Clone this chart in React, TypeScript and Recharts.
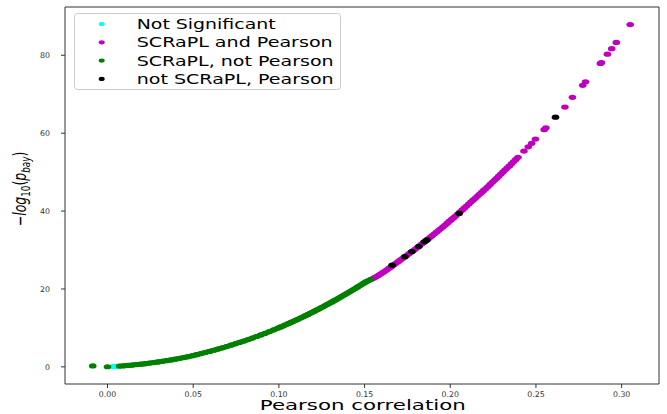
import React from 'react';
import { ScatterChart, Scatter, XAxis, YAxis, Legend, ReferenceArea } from 'recharts';

const xTicks = [0, 0.05, 0.1, 0.15, 0.2, 0.25, 0.3];
const yTicks = [0, 20, 40, 60, 80];
const xDomain: [number, number] = [-0.0248, 0.3218];
const yDomain: [number, number] = [-4.4, 92.4];

const legendLabels = ['Not Significant', 'SCRaPL and Pearson', 'SCRaPL, not Pearson', 'not SCRaPL, Pearson'];

const notSigX = [0.0035, 0.0052];
const notSigY = [0.1, 0.15];

const greenX = [
  0.007, 0.0095, 0.012, 0.0145, 0.017, 0.0195, 0.022, 0.0245, 0.027, 0.0295,
  0.032, 0.0345, 0.037, 0.0395, 0.042, 0.0445, 0.047, 0.0495, 0.052, 0.0545,
  0.057, 0.0595, 0.062, 0.0645, 0.067, 0.0695, 0.072, 0.0745, 0.077, 0.0795,
  0.082, 0.0845, 0.087, 0.0895, 0.092, 0.0945, 0.097, 0.0995, 0.10075, 0.102,
  0.10325, 0.1045, 0.10575, 0.107, 0.10825, 0.1095, 0.11075, 0.112, 0.11325, 0.1145,
  0.11575, 0.117, 0.11825, 0.1195, 0.12075, 0.122, 0.12325, 0.1245, 0.12575, 0.127,
  0.12825, 0.1295, 0.13075, 0.132, 0.13325, 0.1345, 0.13575, 0.137, 0.13825, 0.1395,
  0.14075, 0.142, 0.14325, 0.1445, 0.14575, 0.147, 0.14825, 0.1495, 0.15075, 0.152,
  0.1535,
];
const greenY = [
  0.19, 0.27, 0.36, 0.47, 0.58, 0.69, 0.82, 0.96, 1.11, 1.26,
  1.43, 1.6, 1.78, 1.97, 2.18, 2.39, 2.61, 2.86, 3.12, 3.4,
  3.68, 3.97, 4.27, 4.58, 4.9, 5.22, 5.56, 5.91, 6.27, 6.63,
  7.0, 7.39, 7.79, 8.2, 8.62, 9.05, 9.5, 9.96, 10.2, 10.43,
  10.67, 10.91, 11.15, 11.4, 11.65, 11.9, 12.15, 12.41, 12.67, 12.93,
  13.2, 13.47, 13.74, 14.02, 14.3, 14.58, 14.86, 15.15, 15.44, 15.73,
  16.02, 16.32, 16.62, 16.92, 17.23, 17.54, 17.85, 18.17, 18.49, 18.81,
  19.13, 19.46, 19.79, 20.12, 20.46, 20.8, 21.14, 21.48, 21.8, 22.1,
  22.4,
];
const greenIsoX = [-0.0086, 0.0];
const greenIsoY = [0.25, 0.03];

const magDenseX = [
  0.1545, 0.15575, 0.157, 0.15825, 0.1595, 0.16075, 0.162, 0.16325, 0.1645, 0.16575,
  0.167, 0.16825, 0.1695, 0.17075, 0.172, 0.17325, 0.1745, 0.17575, 0.177, 0.17825,
  0.1795, 0.18075, 0.182, 0.18325, 0.1845, 0.18575, 0.187, 0.18825, 0.1895, 0.19075,
  0.192, 0.19325, 0.1945, 0.19575, 0.197, 0.19825, 0.1995, 0.20075, 0.202, 0.20325,
  0.2045, 0.20575, 0.207, 0.20825, 0.2095, 0.21075, 0.212, 0.21325, 0.2145, 0.21575,
  0.217, 0.21825, 0.2195, 0.22075, 0.222, 0.22325, 0.2245, 0.22575, 0.227, 0.22825,
  0.2295, 0.23075, 0.232, 0.23325, 0.2345, 0.23575, 0.237, 0.23825, 0.2395,
];
const magDenseY = [
  22.6, 22.9, 23.2, 23.55, 23.9, 24.25, 24.6, 25.0, 25.4, 25.8,
  26.2, 26.6, 27.0, 27.4, 27.8, 28.2, 28.6, 29.0, 29.4, 29.8,
  30.2, 30.65, 31.1, 31.55, 32.0, 32.4, 32.8, 33.25, 33.7, 34.15,
  34.6, 35.05, 35.5, 35.95, 36.4, 36.9, 37.4, 37.85, 38.3, 38.8,
  39.3, 39.8, 40.3, 40.8, 41.3, 41.8, 42.3, 42.8, 43.3, 43.8,
  44.3, 44.8, 45.3, 45.8, 46.3, 46.85, 47.4, 47.9, 48.4, 48.95,
  49.5, 50.05, 50.6, 51.1, 51.6, 52.15, 52.7, 53.25, 53.8,
];
const magSparseX = [0.243, 0.2455, 0.2475, 0.2497, 0.2548, 0.2558, 0.2669, 0.2713, 0.2773, 0.2789, 0.2876, 0.2882, 0.2917, 0.2942, 0.2969, 0.305];
const magSparseY = [55.4, 56.5, 57.4, 58.5, 60.9, 61.4, 66.7, 69.2, 72.3, 73.2, 77.9, 78.1, 80.3, 81.7, 83.3, 87.9];

const blackX = [0.1661, 0.1735, 0.1776, 0.1816, 0.1849, 0.1864, 0.2052, 0.2614];
const blackY = [26.1, 28.3, 29.6, 30.9, 32.1, 32.6, 39.4, 64.1];

const CYAN = '#00ffff';
const MAGENTA = '#bf00bf';
const GREEN = '#008000';
const BLACK = '#000000';
const legendColors = [CYAN, MAGENTA, GREEN, BLACK];
const legendWidths = [139, 196, 197, 197];

const zip = (xs: number[], ys: number[]) => xs.map((x, i) => ({ x, y: ys[i] }));

const notSigData = zip(notSigX, notSigY);
const greenData = zip(greenX, greenY);
const greenIsoData = zip(greenIsoX, greenIsoY);
const magDenseData = zip(magDenseX, magDenseY);
const magSparseData = zip(magSparseX, magSparseY);
const blackData = zip(blackX, blackY);

const dot = (color: string) => (props: any) => (
  <ellipse cx={props.cx} cy={props.cy} rx={3.8} ry={2.6} fill={color} />
);

const LegendBox = () => (
  <svg width={268} height={78} style={{ display: 'block' }}>
    <rect x={0.5} y={0.5} width={266} height={76} rx={3} ry={3} fill="#ffffff" fillOpacity={0.85} stroke="#cccccc" strokeWidth={1} />
    {legendLabels.map((lab, i) => (
      <g key={lab}>
        <ellipse cx={27.7} cy={11 + i * 18.3} rx={3} ry={2.1} fill={legendColors[i]} />
        <text
          x={62.7}
          y={16 + i * 18.3}
          fontSize={14.5}
          fontFamily="DejaVu Sans"
          fill="#000"
          textLength={legendWidths[i]}
          lengthAdjust="spacingAndGlyphs"
        >
          {lab}
        </text>
      </g>
    ))}
  </svg>
);

const XTitle = () => (
  <text x={362.8} y={410} textAnchor="middle" fontSize={14.5} fontFamily="DejaVu Sans" fill="#000" textLength={206} lengthAdjust="spacingAndGlyphs">
    Pearson correlation
  </text>
);

const YTitle = () => (
  <g transform="translate(26,189) rotate(-90) scale(1,1.4)">
    <text x={0} y={0} textAnchor="middle" fontSize={12.5} fontFamily="DejaVu Sans" fill="#000">
      <tspan>−</tspan>
      <tspan fontStyle="italic">log</tspan>
      <tspan fontSize={8.8} dy={2.6}>10</tspan>
      <tspan dy={-2.6}>(</tspan>
      <tspan fontStyle="italic">p</tspan>
      <tspan fontStyle="italic" fontSize={8.8} dy={2.6}>bay</tspan>
      <tspan dy={-2.6}>)</tspan>
    </text>
  </g>
);

export default function App() {
  return (
    <div style={{ position: 'absolute', left: 0, top: 0, width: 667, height: 414, background: '#fff' }}>
      <ScatterChart
        width={667}
        height={414}
        margin={{ top: 7, right: 8, bottom: 0, left: 0 }}
        style={{ fontFamily: 'DejaVu Sans' }}
      >
        <XAxis
          type="number"
          dataKey="x"
          domain={xDomain}
          ticks={xTicks}
          allowDataOverflow
          height={30}
          axisLine={false}
          tickLine={{ stroke: '#333' }}
          tickSize={4}
          tickMargin={3}
          tick={{ fontSize: 7.8, fill: '#333', fontFamily: 'DejaVu Sans' }}
          tickFormatter={(v: number) => v.toFixed(2)}
          label={<XTitle />}
        />
        <YAxis
          type="number"
          dataKey="y"
          domain={yDomain}
          ticks={yTicks}
          allowDataOverflow
          width={65}
          axisLine={false}
          tickLine={{ stroke: '#333' }}
          tickSize={4}
          tickMargin={11}
          tick={{ fontSize: 7.8, fill: '#333', fontFamily: 'DejaVu Sans' }}
          label={<YTitle />}
        />
        <ReferenceArea x1={xDomain[0]} x2={xDomain[1]} y1={yDomain[0]} y2={yDomain[1]} fill="none" fillOpacity={0} stroke="#333" strokeWidth={1} />
        <Scatter data={notSigData} fill={CYAN} shape={dot(CYAN)} isAnimationActive={false} />
        <Scatter data={magDenseData} fill={MAGENTA} shape={dot(MAGENTA)} line={{ stroke: MAGENTA, strokeWidth: 5 }} lineType="joint" isAnimationActive={false} />
        <Scatter data={magSparseData} fill={MAGENTA} shape={dot(MAGENTA)} isAnimationActive={false} />
        <Scatter data={greenData} fill={GREEN} shape={dot(GREEN)} line={{ stroke: GREEN, strokeWidth: 5 }} lineType="joint" isAnimationActive={false} />
        <Scatter data={greenIsoData} fill={GREEN} shape={dot(GREEN)} isAnimationActive={false} />
        <Scatter data={blackData} fill={BLACK} shape={dot(BLACK)} isAnimationActive={false} />
        <Legend
          layout="vertical"
          verticalAlign="middle"
          align="center"
          wrapperStyle={{ left: 74, top: 13, width: 268, height: 78 }}
          content={() => <LegendBox />}
        />
      </ScatterChart>
    </div>
  );
}
